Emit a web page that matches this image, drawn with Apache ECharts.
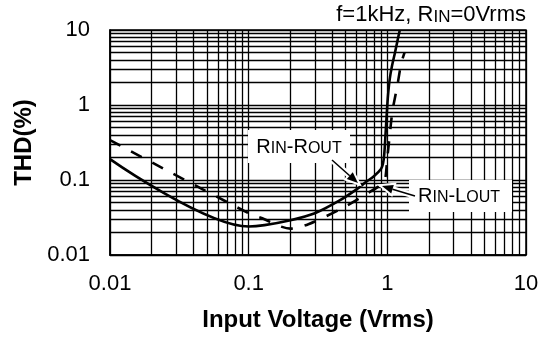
<!DOCTYPE html>
<html>
<head>
<meta charset="utf-8">
<script src="https://cdn.jsdelivr.net/npm/echarts@6/dist/echarts.min.js"></script>
<style>
  html, body { margin: 0; padding: 0; background: #fff; }
  #chart { width: 546px; height: 338px; }
</style>
</head>
<body>
<div id="chart"></div>
<script>
// RIN-ROUT, solid curve
const routX = [0.01, 0.1, 0.13, 0.2, 0.3, 0.45, 0.6, 0.7, 0.8, 0.9, 0.93, 0.95, 0.97, 0.99, 1.01, 1.04, 1.08, 1.13, 1.18, 1.23];
const routY = [0.19, 0.024, 0.025, 0.029, 0.036, 0.053, 0.075, 0.094, 0.112, 0.14, 0.165, 0.22, 0.4, 0.75, 1.3, 2.2, 3.3, 4.8, 7.0, 10];

// RIN-LOUT, dashed curve
const loutX = [0.01, 0.1, 0.13, 0.16, 0.2, 0.25, 0.3, 0.45, 0.65, 0.8, 0.93, 0.97, 1.0, 1.03, 1.06, 1.09, 1.13, 1.18, 1.22, 1.26, 1.33];
const loutY = [0.34, 0.036, 0.030, 0.025, 0.0225, 0.0245, 0.028, 0.040, 0.059, 0.075, 0.09, 0.11, 0.2, 0.33, 0.55, 0.85, 1.2, 1.8, 2.6, 3.6, 5.0];

// log grid: decades and the 1..9 steps inside each one
const decades = [0.01, 0.1, 1];
const steps = [1, 2, 3, 4, 5, 6, 7, 8, 9];

const gridVals = [];
decades.forEach(d => steps.forEach(s => gridVals.push(+(d * s).toPrecision(3))));
gridVals.push(10);

const FONT = '"Liberation Sans", Arial, sans-serif';

const pairs = (xs, ys) => xs.map((x, i) => [x, ys[i]]);
const fmt = v => String(+(+v).toPrecision(3));

// arrow helper (annotation only)
function arrow(x1, y1, x2, y2) {
  const len = Math.hypot(x2 - x1, y2 - y1);
  const dx = (x2 - x1) / len, dy = (y2 - y1) / len;
  const hl = 11, hw = 4.5;
  const bx = x2 - dx * hl, by = y2 - dy * hl;
  const head = [[x2, y2], [bx - dy * hw, by + dx * hw], [bx + dy * hw, by - dx * hw]];
  return [
    { type: 'line', z: 20, shape: { x1, y1, x2: bx, y2: by }, style: { stroke: '#fff', lineWidth: 6 } },
    { type: 'polygon', z: 20, shape: { points: head }, style: { fill: '#fff', stroke: '#fff', lineWidth: 4 } },
    { type: 'line', z: 21, shape: { x1, y1, x2: bx, y2: by }, style: { stroke: '#000', lineWidth: 1.5 } },
    { type: 'polygon', z: 21, shape: { points: head }, style: { fill: '#000' } }
  ];
}

const rich = {
  a: { fontSize: 20, fontFamily: FONT, color: '#000', verticalAlign: 'bottom' },
  s: { fontSize: 16, fontFamily: FONT, color: '#000', verticalAlign: 'bottom' },
  ta: { fontSize: 22, fontFamily: FONT, color: '#000', verticalAlign: 'bottom' },
  ts: { fontSize: 17, fontFamily: FONT, color: '#000', verticalAlign: 'bottom' }
};

const chart = echarts.init(document.getElementById('chart'));

const option = {
  animation: false,
  backgroundColor: '#fff',
  grid: { left: 110, right: 20, top: 30, bottom: 83, show: true, borderColor: '#000', borderWidth: 1.5, backgroundColor: 'transparent' },
  xAxis: {
    type: 'log',
    logBase: 10,
    min: 0.01,
    max: 10,
    name: 'Input Voltage (Vrms)',
    nameLocation: 'middle',
    nameGap: 53,
    nameTextStyle: { fontSize: 24, fontWeight: 'bold', fontFamily: FONT, color: '#000' },
    axisLine: { show: true, lineStyle: { color: '#000', width: 1.5 } },
    axisTick: { show: false },
    splitLine: { show: false },
    axisLabel: { fontSize: 22, fontFamily: FONT, color: '#000', margin: 18, formatter: fmt }
  },
  yAxis: {
    type: 'log',
    logBase: 10,
    min: 0.01,
    max: 10,
    name: 'THD(%)',
    nameLocation: 'middle',
    nameGap: 71,
    nameTextStyle: { fontSize: 24, fontWeight: 'bold', fontFamily: FONT, color: '#000' },
    axisLine: { show: true, lineStyle: { color: '#000', width: 1.5 } },
    axisTick: { show: false },
    splitLine: { show: false },
    axisLabel: { fontSize: 22, fontFamily: FONT, color: '#000', margin: 20, formatter: fmt }
  },
  series: [
    {
      // grid lines only
      type: 'line',
      data: [],
      z: 1,
      silent: true,
      markLine: {
        silent: true,
        symbol: ['none', 'none'],
        label: { show: false },
        lineStyle: { color: '#000', width: 1.3, type: 'solid' },
        emphasis: { disabled: true },
        data: gridVals.map(v => ({ xAxis: v })).concat(gridVals.map(v => ({ yAxis: v })))
      }
    },
    {
      name: 'RIN-ROUT',
      type: 'line',
      z: 3,
      data: pairs(routX, routY),
      showSymbol: false,
      smooth: 0.3,
      clip: true,
      lineStyle: { color: '#000', width: 2.6 }
    },
    {
      name: 'RIN-LOUT',
      type: 'line',
      z: 3,
      data: pairs(loutX, loutY),
      showSymbol: false,
      smooth: 0.3,
      clip: true,
      lineStyle: { color: '#000', width: 2.6, type: [12, 12] }
    }
  ],
  graphic: [
    { type: 'text', z: 30, x: 526, y: 15, style: { text: '{ta|f=1kHz, R}{ts|IN}{ta|=0Vrms}', rich, align: 'right', verticalAlign: 'middle' } },
    { type: 'rect', z: 15, shape: { x: 248, y: 130, width: 102, height: 33 }, style: { fill: '#fff' } },
    { type: 'text', z: 30, x: 299, y: 147, style: { text: '{a|R}{s|IN}{a|-R}{s|OUT}', rich, align: 'center', verticalAlign: 'middle' } },
    { type: 'rect', z: 15, shape: { x: 409, y: 180, width: 103, height: 32 }, style: { fill: '#fff' } },
    { type: 'text', z: 30, x: 459, y: 196, style: { text: '{a|R}{s|IN}{a|-L}{s|OUT}', rich, align: 'center', verticalAlign: 'middle' } }
  ].concat(arrow(332, 160, 358, 183), arrow(415, 196, 382, 186))
};

chart.setOption(option);
</script>
</body>
</html>
